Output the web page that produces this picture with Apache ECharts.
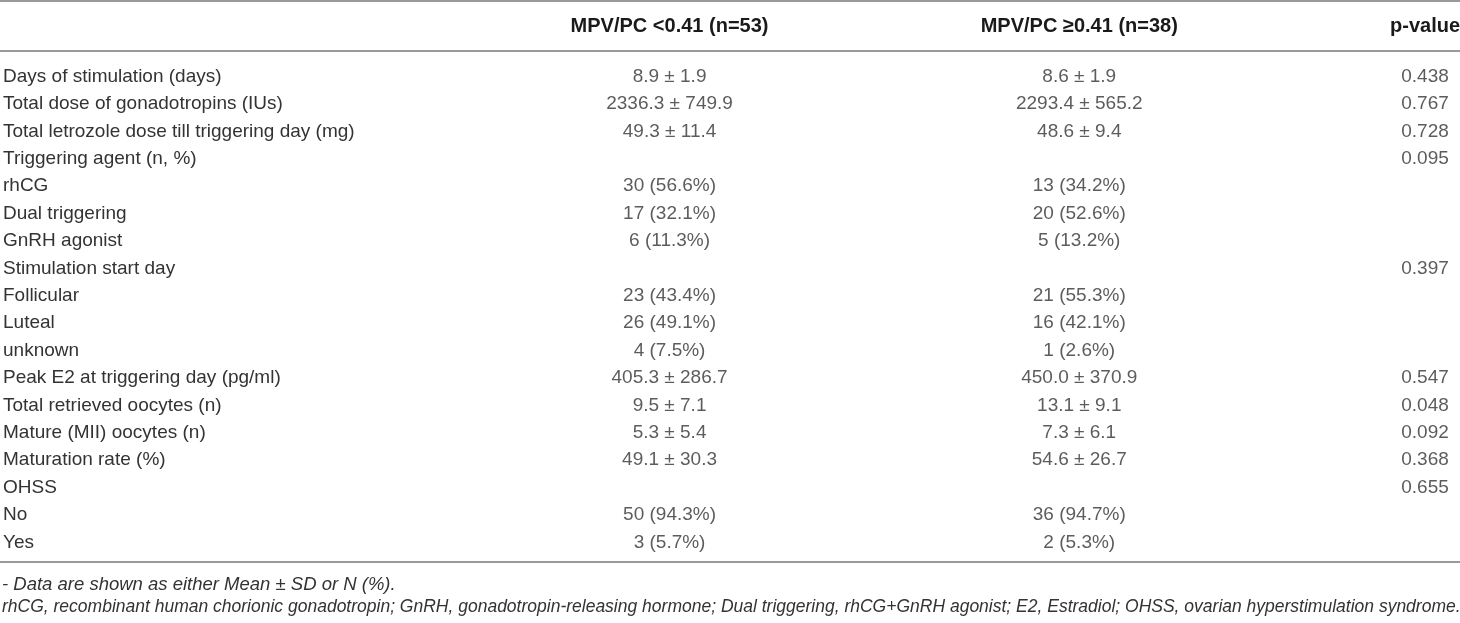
<!DOCTYPE html>
<html>
<head>
<meta charset="utf-8">
<script src="https://cdn.jsdelivr.net/npm/echarts@6/dist/echarts.min.js"></script>
<style>
  html, body { margin: 0; padding: 0; background: #fff; }
  #main { width: 1460px; height: 623px; }
</style>
</head>
<body>
<div id="main"></div>
<script>
// table content
var rowLabels = [
  'Days of stimulation (days)', 'Total dose of gonadotropins (IUs)',
  'Total letrozole dose till triggering day (mg)', 'Triggering agent (n, %)',
  'rhCG', 'Dual triggering', 'GnRH agonist', 'Stimulation start day',
  'Follicular', 'Luteal', 'unknown', 'Peak E2 at triggering day (pg/ml)',
  'Total retrieved oocytes (n)', 'Mature (MII) oocytes (n)', 'Maturation rate (%)',
  'OHSS', 'No', 'Yes'
];
var columnHeaders = ['MPV/PC <0.41 (n=53)', 'MPV/PC \u22650.41 (n=38)', 'p-value'];
var groupLow = [
  '8.9 ± 1.9', '2336.3 ± 749.9', '49.3 ± 11.4', '', '30 (56.6%)', '17 (32.1%)',
  '6 (11.3%)', '', '23 (43.4%)', '26 (49.1%)', '4 (7.5%)', '405.3 ± 286.7',
  '9.5 ± 7.1', '5.3 ± 5.4', '49.1 ± 30.3', '', '50 (94.3%)', '3 (5.7%)'
];
var groupHigh = [
  '8.6 ± 1.9', '2293.4 ± 565.2', '48.6 ± 9.4', '', '13 (34.2%)', '20 (52.6%)',
  '5 (13.2%)', '', '21 (55.3%)', '16 (42.1%)', '1 (2.6%)', '450.0 ± 370.9',
  '13.1 ± 9.1', '7.3 ± 6.1', '54.6 ± 26.7', '', '36 (94.7%)', '2 (5.3%)'
];
var pValues = [
  '0.438', '0.767', '0.728', '0.095', '', '', '', '0.397', '', '', '',
  '0.547', '0.048', '0.092', '0.368', '0.655', '', ''
];
var footnotes = [
  '- Data are shown as either Mean ± SD or N (%).',
  'rhCG, recombinant human chorionic gonadotropin; GnRH, gonadotropin-releasing hormone; Dual triggering, rhCG+GnRH agonist; E2, Estradiol; OHSS, ovarian hyperstimulation syndrome.'
];

// layout: column centres on the hidden x scale
var colX = [669, 1079, 1425];
var font = '"Liberation Sans", Arial, sans-serif';
var ink = '#333333';
var rule = '#9a9a9a';

function cells(values, c) {
  return values.map(function (v, i) { return [colX[c], i, v]; });
}

function cellSeries(values, c) {
  return {
    type: 'scatter',
    symbolSize: 1,
    itemStyle: { color: 'transparent' },
    silent: true,
    data: cells(values, c),
    label: {
      show: true,
      position: 'inside',
      formatter: function (p) { return p.value[2]; },
      color: ink,
      fontFamily: font,
      fontSize: 19,
      align: 'center',
      verticalAlign: 'middle'
    }
  };
}

var chart = echarts.init(document.getElementById('main'));
chart.setOption({
  animation: false,
  backgroundColor: '#fff',
  grid: { left: 0, right: 0, top: 63, bottom: 67 },
  xAxis: { type: 'value', min: 0, max: 1460, show: false },
  yAxis: {
    type: 'category',
    inverse: true,
    data: rowLabels,
    axisLine: { show: false },
    axisTick: { show: false },
    splitLine: { show: false },
    axisLabel: {
      inside: true,
      margin: 2,
      align: 'left',
      color: ink,
      fontFamily: font,
      fontSize: 19
    }
  },
  series: [cellSeries(groupLow, 0), cellSeries(groupHigh, 1), cellSeries(pValues, 2)]
});

// header, rules and notes
var g = [];
[1, 51, 562].forEach(function (y) {
  g.push({ type: 'line', shape: { x1: 0, y1: y, x2: 1460, y2: y },
           style: { stroke: rule, lineWidth: 2 } });
});
columnHeaders.forEach(function (h, c) {
  g.push({ type: 'text', x: chart.convertToPixel({ xAxisIndex: 0 }, colX[c]), y: 26,
           style: { text: h, fill: '#1a1a1a', font: 'bold 20px ' + font,
                    textAlign: 'center', textVerticalAlign: 'middle' } });
});
footnotes.forEach(function (t, i) {
  g.push({ type: 'text', x: 2, y: 585 + i * 22,
           style: { text: t, fill: ink, font: 'italic ' + (i === 0 ? 18.5 : 17.5) + 'px ' + font,
                    textAlign: 'left', textVerticalAlign: 'middle' } });
});
chart.setOption({ graphic: g });
</script>
</body>
</html>
